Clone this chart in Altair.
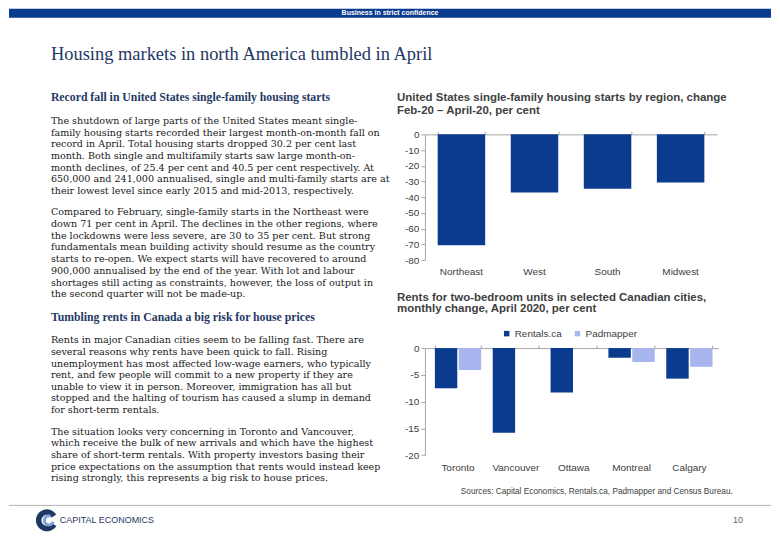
import altair as alt
import pandas as pd

# ---------------- colours / fonts ----------------
DARK = "#0B3B8E"
LIGHT = "#A9B5EE"
NAVY = "#1F3864"
BODY = "#1A1A1A"
AXIS_GRAY = "#A6A6A6"
LABEL = "#404040"
SANS = "Liberation Sans"
SERIF = "Liberation Serif"
BODY_SERIF = "DejaVu Serif"

# ---------------- data ----------------
regions = ["Northeast", "West", "South", "Midwest"]
us_change = [-70.6, -37.0, -34.6, -30.6]
us_ticks = [0, -10, -20, -30, -40, -50, -60, -70, -80]

cities = ["Toronto", "Vancouver", "Ottawa", "Montreal", "Calgary"]
rentals_ca = [-7.5, -15.8, -8.3, -1.8, -5.7]
padmapper = [-4.1, None, None, -2.6, -3.5]
sources = ["Rentals.ca", "Padmapper"]
ca_ticks = [0, -5, -10, -15, -20]

header_text = "Business in strict confidence"
main_title = "Housing markets in north America tumbled in April"
chart1_title = ["United States single-family housing starts by region, change",
                "Feb-20 \u2013 April-20, per cent"]
chart2_title = ["Rents for two-bedroom units in selected Canadian cities,",
                "monthly change, April 2020, per cent"]
sources_note = "Sources: Capital Economics, Rentals.ca, Padmapper and Census Bureau."

heading1 = "Record fall in United States single-family housing starts"
para1 = [
    "The shutdown of large parts of the United States meant single-",
    "family housing starts recorded their largest month-on-month fall on",
    "record in April. Total housing starts dropped 30.2 per cent last",
    "month. Both single and multifamily starts saw large month-on-",
    "month declines, of 25.4 per cent and 40.5 per cent respectively. At",
    "650,000 and 241,000 annualised, single and multi-family starts are at",
    "their lowest level since early 2015 and mid-2013, respectively.",
]
para2 = [
    "Compared to February, single-family starts in the Northeast were",
    "down 71 per cent in April. The declines in the other regions, where",
    "the lockdowns were less severe, are 30 to 35 per cent. But strong",
    "fundamentals mean building activity should resume as the country",
    "starts to re-open. We expect starts will have recovered to around",
    "900,000 annualised by the end of the year. With lot and labour",
    "shortages still acting as constraints, however, the loss of output in",
    "the second quarter will not be made-up.",
]
heading2 = "Tumbling rents in Canada a big risk for house prices"
para3 = [
    "Rents in major Canadian cities seem to be falling fast. There are",
    "several reasons why rents have been quick to fall. Rising",
    "unemployment has most affected low-wage earners, who typically",
    "rent, and few people will commit to a new property if they are",
    "unable to view it in person. Moreover, immigration has all but",
    "stopped and the halting of tourism has caused a slump in demand",
    "for short-term rentals.",
]
para4 = [
    "The situation looks very concerning in Toronto and Vancouver,",
    "which receive the bulk of new arrivals and which have the highest",
    "share of short-term rentals. With property investors basing their",
    "price expectations on the assumption that rents would instead keep",
    "rising strongly, this represents a big risk to house prices.",
]
logo_text = "CAPITAL ECONOMICS"
page_number = "10"

# ---------------- layout (page pixels) ----------------
M = 8
FULL_W = 764
LEFT_W = 380
C1_X, C1_Y, C1_W, C1_H = 425, 134, 293, 126
C2_Y, C2_W, C2_H = 348.3, 294, 107.4
ORIG_L1, ORIG_L2 = C1_Y, C2_Y
one = pd.DataFrame({"a": [0]})
BODY_SIZE = 9.6
HEAD_SIZE = 11.8


def text_layer(lines, x, y, origin, size, font=BODY_SERIF, weight="normal",
               color=BODY, lh=None, align="left", baseline="alphabetic"):
    if isinstance(lines, str):
        lines = [lines]
    df = pd.DataFrame({"t": ["\n".join(lines)]})
    kw = dict(align=align, baseline=baseline, font=font, fontSize=size,
              fontWeight=weight, color=color, lineBreak="\n")
    if lh:
        kw["lineHeight"] = lh
    return alt.Chart(df).mark_text(**kw).encode(
        x=alt.value(x - M), y=alt.value(y - origin), text="t:N")


# ---------------- left canvas 1 (with page header) ----------------
band = alt.Chart(one).mark_rect(color=DARK).encode(
    x=alt.value(0), x2=alt.value(FULL_W),
    y=alt.value(M - ORIG_L1), y2=alt.value(M + 9 - ORIG_L1))
LH = 11.75
left1 = alt.layer(
    band,
    text_layer(header_text, 390, 12.5, ORIG_L1, 7, font=SANS, weight="bold",
               color="white", align="center", baseline="middle"),
    text_layer(main_title, 50, 59.5, ORIG_L1, 18.5, font=SERIF, color=NAVY),
    text_layer(heading1, 50, 101, ORIG_L1, HEAD_SIZE, font=SERIF,
               weight="bold", color=NAVY),
    text_layer(para1, 50, 123.5, ORIG_L1, BODY_SIZE, lh=LH),
    text_layer(para2, 50, 215.2, ORIG_L1, BODY_SIZE, lh=LH),
    text_layer(chart1_title, 397, 100.8, ORIG_L1, 11.5, font=SANS,
               weight="bold", color=LABEL, lh=12.3),
).properties(width=LEFT_W, height=C1_H)

# ---------------- left canvas 2 (with footer) ----------------
logo_c = alt.Chart(one).mark_arc(color=NAVY, radius=11, radius2=5.5,
                                 theta=2.1, theta2=7.3).encode(
    x=alt.value(46 - M), y=alt.value(521 - ORIG_L2))
logo_e = alt.Chart(one).mark_arc(color="#7FA3D8", radius=6, radius2=3,
                                 theta=1.9, theta2=6.6).encode(
    x=alt.value(48 - M), y=alt.value(521 - ORIG_L2))
footer_line = alt.Chart(one).mark_rule(color="#B4B4B4", strokeWidth=1).encode(
    x=alt.value(0), x2=alt.value(FULL_W), y=alt.value(506 - ORIG_L2))
left2 = alt.layer(
    text_layer(heading2, 50, 320.8, ORIG_L2, HEAD_SIZE, font=SERIF,
               weight="bold", color=NAVY),
    text_layer(para3, 50, 343.5, ORIG_L2, BODY_SIZE, lh=11.67),
    text_layer(para4, 50, 435.2, ORIG_L2, BODY_SIZE, lh=11.67),
    text_layer(chart2_title, 397, 300.8, ORIG_L2, 11.5, font=SANS,
               weight="bold", color=LABEL, lh=11.8),
    text_layer(sources_note, 461, 494.5, ORIG_L2, 8.3, font=SANS, color=LABEL),
    footer_line, logo_c, logo_e,
    text_layer(logo_text, 59, 524, ORIG_L2, 9, font=SANS, color=NAVY),
    text_layer(page_number, 739, 524, ORIG_L2, 9, font=SANS, color="#666666",
               align="center"),
).properties(width=LEFT_W, height=C2_H)

# ---------------- shared axis styles ----------------
yaxis_common = dict(title=None, grid=False, tickSize=4, tickColor=AXIS_GRAY,
                    domainColor=AXIS_GRAY, labelFont=SANS, labelFontSize=10,
                    labelColor=LABEL, labelPadding=2,
                    labelExpr="'' + datum.value")
top_axis = dict(orient="top", title=None, labels=False, tickBand="extent",
                tickSize=3, tickColor=AXIS_GRAY, domainColor=AXIS_GRAY)
bottom_axis = dict(orient="bottom", title=None, domain=False, ticks=False,
                   tickSize=0, labelPadding=7, labelAngle=0, labelFont=SANS,
                   labelFontSize=10, labelColor=LABEL)

# ---------------- chart 1: US starts ----------------
df_us = pd.DataFrame({"region": regions, "change": us_change})
x1 = alt.Scale(domain=regions, paddingInner=0.35, paddingOuter=0.175)
y1 = alt.Scale(domain=[-80, 0], nice=False, zero=False)
bars1 = alt.Chart(df_us).mark_bar(color=DARK).encode(
    x=alt.X("region:N", sort=regions, scale=x1, axis=alt.Axis(**top_axis)),
    y=alt.Y("change:Q", scale=y1,
            axis=alt.Axis(values=us_ticks, **yaxis_common)),
)
lab1 = alt.Chart(df_us).mark_text(opacity=0).encode(
    x=alt.X("region:N", sort=regions, scale=x1, axis=alt.Axis(**bottom_axis)),
    text="region:N",
)
chart1 = alt.layer(bars1, lab1).resolve_axis(x="independent").properties(
    width=C1_W, height=C1_H)

# ---------------- chart 2: Canadian rents ----------------
rows = []
for c, r, p in zip(cities, rentals_ca, padmapper):
    rows.append({"city": c, "source": sources[0], "change": r})
    if p is not None:
        rows.append({"city": c, "source": sources[1], "change": p})
df_ca = pd.DataFrame(rows)
x2 = alt.Scale(domain=cities, paddingInner=0.2, paddingOuter=0.1345, align=0.64)
y2 = alt.Scale(domain=[-20, 0], nice=False, zero=False)
bars2 = alt.Chart(df_ca).mark_bar().encode(
    x=alt.X("city:N", sort=cities, scale=x2, axis=alt.Axis(**top_axis)),
    xOffset=alt.XOffset("source:N", sort=sources,
                        scale=alt.Scale(domain=sources, paddingInner=0.06)),
    y=alt.Y("change:Q", scale=y2,
            axis=alt.Axis(values=ca_ticks, **yaxis_common)),
    color=alt.Color("source:N",
                    scale=alt.Scale(domain=sources, range=[DARK, LIGHT]),
                    legend=alt.Legend(orient="none", legendX=77, legendY=-19.5,
                                      direction="horizontal", title=None,
                                      symbolType="square", symbolSize=30,
                                      symbolStrokeWidth=0, labelFont=SANS,
                                      labelFontSize=10, labelColor=LABEL,
                                      columnPadding=10, labelOffset=3,
                                      padding=0)),
)
lab2 = alt.Chart(pd.DataFrame({"city": cities})).mark_text(opacity=0).encode(
    x=alt.X("city:N", sort=cities, scale=x2, axis=alt.Axis(**bottom_axis)),
    text="city:N",
)
chart2 = alt.layer(bars2, lab2).resolve_axis(x="independent").properties(
    width=C2_W, height=C2_H)

# ---------------- assemble ----------------
chart = alt.concat(
    left1, chart1, left2, chart2,
    columns=2,
    spacing={"row": C2_Y - (C1_Y + C1_H), "column": C1_X - M - LEFT_W},
    bounds="flush",
).resolve_legend(color="independent").properties(
    padding=0
).configure(font=SANS).configure_view(stroke=None)

chart.save("out.html", embed_options={"renderer": "svg", "actions": False})
